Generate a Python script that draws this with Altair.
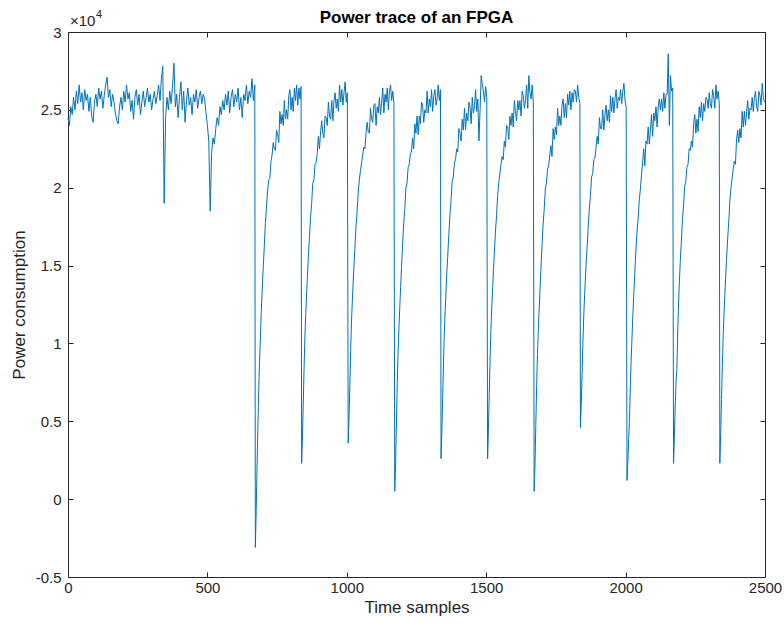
import altair as alt
import pandas as pd

# ---- data (power in units of 1e4) ----
plateau_step = 5
plateau_power = [
    2.45, 2.40, 2.52, 2.47, 2.58, 2.50, 2.62, 2.54, 2.66, 2.55,
    2.61, 2.50, 2.63, 2.56, 2.60, 2.49, 2.58, 2.46, 2.42, 2.55,
    2.60, 2.52, 2.64, 2.57, 2.62, 2.51, 2.59, 2.66, 2.71, 2.58,
    2.63, 2.52, 2.60, 2.55, 2.48, 2.43, 2.41, 2.52, 2.58, 2.50,
    2.62, 2.55, 2.66, 2.57, 2.61, 2.49, 2.56, 2.44, 2.58, 2.63,
    2.53, 2.60, 2.47, 2.55, 2.62, 2.52, 2.58, 2.64, 2.55, 2.60,
    2.50, 2.57, 2.62, 2.54, 2.59, 2.66, 2.56, 2.70, 2.78, 1.90,
    2.45, 2.58, 2.50, 2.62, 2.54, 2.66, 2.80, 2.52, 2.60, 2.45,
    2.58, 2.68, 2.50, 2.62, 2.42, 2.56, 2.64, 2.53, 2.58, 2.47,
    2.60, 2.55, 2.63, 2.51, 2.58, 2.62, 2.54, 2.60, 2.57, 2.48,
    2.40, 2.30, 1.85, 2.22, 2.32, 2.28, 2.38, 2.45, 2.40, 2.52,
    2.47, 2.56, 2.50, 2.60, 2.53, 2.62, 2.48, 2.58, 2.63, 2.52,
    2.60, 2.55, 2.64, 2.50, 2.58, 2.45, 2.60, 2.56, 2.66, 2.54,
    2.62, 2.58, 2.70, 2.56, 2.66,
]

cycle_starts = [672, 838, 1005, 1172, 1338, 1505, 1672, 1838, 2005, 2172, 2338]
cycle_offsets = [0, 3, 6, 9, 12, 15, 18, 21, 24] + list(range(28, 165, 4))

cycle_power = [
    [-0.31, -0.08, 0.20, 0.46, 0.70, 0.88, 1.03, 1.20, 1.32, 1.48, 1.62, 1.77, 1.88, 1.98, 2.05, 2.06,
     2.17, 2.21, 2.29, 2.25, 2.24, 2.37, 2.34, 2.29, 2.49, 2.41, 2.47, 2.40, 2.56, 2.44, 2.50, 2.44,
     2.59, 2.63, 2.50, 2.58, 2.49, 2.64, 2.56, 2.66, 2.53, 2.64, 2.57, 2.65],
    [0.23, 0.40, 0.63, 0.86, 1.06, 1.20, 1.32, 1.44, 1.55, 1.68, 1.81, 1.90, 2.03, 2.05, 2.15, 2.16,
     2.22, 2.33, 2.25, 2.36, 2.43, 2.35, 2.32, 2.46, 2.45, 2.40, 2.55, 2.46, 2.44, 2.56, 2.43, 2.56,
     2.61, 2.51, 2.57, 2.49, 2.66, 2.55, 2.63, 2.53, 2.61, 2.68, 2.55, 2.61],
    [0.36, 0.52, 0.74, 0.96, 1.15, 1.28, 1.40, 1.51, 1.61, 1.75, 1.85, 1.97, 2.05, 2.11, 2.16, 2.21,
     2.26, 2.25, 2.35, 2.42, 2.36, 2.35, 2.51, 2.44, 2.42, 2.53, 2.54, 2.40, 2.52, 2.48, 2.58, 2.47,
     2.55, 2.64, 2.48, 2.60, 2.55, 2.64, 2.50, 2.62, 2.66, 2.56, 2.62, 2.54],
    [0.05, 0.23, 0.49, 0.74, 0.95, 1.10, 1.23, 1.36, 1.48, 1.63, 1.77, 1.86, 2.00, 2.03, 2.13, 2.15,
     2.22, 2.23, 2.32, 2.25, 2.41, 2.35, 2.46, 2.34, 2.46, 2.41, 2.55, 2.53, 2.42, 2.50, 2.48, 2.62,
     2.48, 2.57, 2.52, 2.63, 2.49, 2.59, 2.63, 2.53, 2.57, 2.66, 2.56, 2.63],
    [0.26, 0.44, 0.66, 0.89, 1.08, 1.22, 1.34, 1.46, 1.56, 1.70, 1.83, 1.92, 2.04, 2.07, 2.16, 2.18,
     2.25, 2.23, 2.38, 2.35, 2.30, 2.44, 2.37, 2.51, 2.37, 2.48, 2.43, 2.55, 2.52, 2.41, 2.58, 2.48,
     2.52, 2.63, 2.49, 2.57, 2.30, 2.50, 2.72, 2.66, 2.62, 2.55, 2.65, 2.58],
    [0.26, 0.45, 0.68, 0.90, 1.09, 1.23, 1.35, 1.47, 1.57, 1.71, 1.82, 1.95, 2.03, 2.09, 2.15, 2.20,
     2.18, 2.30, 2.26, 2.40, 2.39, 2.31, 2.46, 2.40, 2.48, 2.39, 2.56, 2.49, 2.43, 2.56, 2.50, 2.56,
     2.46, 2.62, 2.59, 2.51, 2.56, 2.66, 2.51, 2.72, 2.61, 2.57, 2.66, 2.55],
    [0.05, 0.22, 0.48, 0.73, 0.93, 1.09, 1.22, 1.35, 1.47, 1.62, 1.76, 1.86, 1.99, 2.03, 2.12, 2.14,
     2.21, 2.27, 2.20, 2.38, 2.31, 2.39, 2.34, 2.51, 2.40, 2.46, 2.40, 2.53, 2.57, 2.45, 2.54, 2.45,
     2.60, 2.53, 2.62, 2.50, 2.61, 2.55, 2.63, 2.62, 2.55, 2.66, 2.58, 2.54],
    [0.46, 0.61, 0.81, 1.01, 1.18, 1.31, 1.42, 1.53, 1.62, 1.75, 1.87, 1.95, 2.07, 2.09, 2.18, 2.19,
     2.26, 2.33, 2.28, 2.45, 2.38, 2.38, 2.50, 2.37, 2.47, 2.53, 2.43, 2.50, 2.42, 2.59, 2.49, 2.58,
     2.48, 2.57, 2.63, 2.51, 2.58, 2.56, 2.63, 2.54, 2.62, 2.67, 2.56, 2.52],
    [0.12, 0.24, 0.38, 0.52, 0.72, 0.90, 1.04, 1.18, 1.30, 1.45, 1.60, 1.72, 1.80, 1.92, 1.99, 2.08,
     2.16, 2.25, 2.14, 2.30, 2.28, 2.39, 2.28, 2.37, 2.47, 2.33, 2.48, 2.43, 2.52, 2.39, 2.52, 2.57,
     2.50, 2.57, 2.49, 2.61, 2.51, 2.60, 2.60, 2.86, 2.40, 2.72, 2.62, 2.64],
    [0.23, 0.40, 0.60, 0.76, 0.84, 1.08, 1.26, 1.40, 1.52, 1.66, 1.80, 1.89, 2.01, 2.04, 2.13, 2.15,
     2.25, 2.24, 2.30, 2.26, 2.41, 2.47, 2.35, 2.44, 2.36, 2.52, 2.45, 2.55, 2.43, 2.54, 2.49, 2.58,
     2.57, 2.51, 2.61, 2.54, 2.51, 2.63, 2.59, 2.51, 2.66, 2.57, 2.62, 2.54],
    [0.23, 0.42, 0.64, 0.86, 1.05, 1.19, 1.31, 1.43, 1.54, 1.67, 1.78, 1.92, 2.00, 2.06, 2.12, 2.17,
     2.15, 2.31, 2.37, 2.29, 2.38, 2.32, 2.49, 2.39, 2.49, 2.40, 2.49, 2.56, 2.44, 2.51, 2.50, 2.58,
     2.49, 2.58, 2.62, 2.52, 2.49, 2.62, 2.59, 2.53, 2.67, 2.58, 2.55],
]

x_ticks = [0, 500, 1000, 1500, 2000, 2500]
y_ticks = [-0.5, 0, 0.5, 1, 1.5, 2, 2.5, 3]

samples, power = [], []
for i, v in enumerate(plateau_power):
    samples.append(i * plateau_step)
    power.append(v)
for start, vals in zip(cycle_starts, cycle_power):
    for off, v in zip(cycle_offsets, vals):
        samples.append(start + off)
        power.append(v)

df = pd.DataFrame({"sample": samples, "power": power})

W, H = 697, 545
FONT = "Liberation Sans"
AX = "#262626"

xs = alt.Scale(domain=[0, 2500], nice=False, zero=False)
ys = alt.Scale(domain=[-0.5, 3], nice=False, zero=False)

common = dict(grid=False, domain=False, tickSize=5, offset=-5, tickColor=AX,
              labelColor=AX, labelFont=FONT, labelFontSize=15, titleFont=FONT,
              titleFontSize=17, titleFontWeight="normal", titleColor=AX)

line = alt.Chart(df).mark_line(color="#0072BD", strokeWidth=1).encode(
    x=alt.X("sample:Q", scale=xs,
            axis=alt.Axis(values=x_ticks, labelExpr="'' + datum.value", labelFlush=False,
                          labelOverlap=False, labelPadding=3, title="Time samples",
                          titlePadding=4, **common)),
    y=alt.Y("power:Q", scale=ys,
            axis=alt.Axis(values=y_ticks, labelExpr="'' + datum.value", labelPadding=7,
                          labelOverlap=False, title="Power consumption", titlePadding=7,
                          **common)),
)

mirror = alt.Chart(df).mark_line(opacity=0).encode(
    x=alt.X("sample:Q", scale=xs,
            axis=alt.Axis(orient="top", values=x_ticks, labels=False, title=None, **common)),
    y=alt.Y("power:Q", scale=ys,
            axis=alt.Axis(orient="right", values=y_ticks, labels=False, title=None, **common)),
)

title_df = pd.DataFrame({"t": ["Power trace of an FPGA"]})
title = alt.Chart(title_df).mark_text(font=FONT, fontSize=17, fontWeight="bold", color="black",
                                      align="center", baseline="middle").encode(
    x=alt.value(W / 2), y=alt.value(-14), text="t:N")

exp_df = pd.DataFrame({"t": ["\u00d710"], "e": ["4"]})
exp_base = alt.Chart(exp_df).mark_text(font=FONT, fontSize=15, color=AX, align="left",
                                       baseline="alphabetic").encode(
    x=alt.value(2), y=alt.value(-6), text="t:N")
exp_sup = alt.Chart(exp_df).mark_text(font=FONT, fontSize=11, color=AX, align="left",
                                      baseline="alphabetic").encode(
    x=alt.value(28), y=alt.value(-14), text="e:N")

chart = alt.layer(line, mirror, title, exp_base, exp_sup).resolve_scale(
    x="independent", y="independent"
).properties(
    width=W, height=H,
    autosize=alt.AutoSizeParams(type="none"),
    padding={"left": 68, "top": 32, "right": 19, "bottom": 46},
    background="white",
).configure_view(stroke=AX, strokeWidth=1)

chart.save("out.html", embed_options={"renderer": "svg", "actions": False})
